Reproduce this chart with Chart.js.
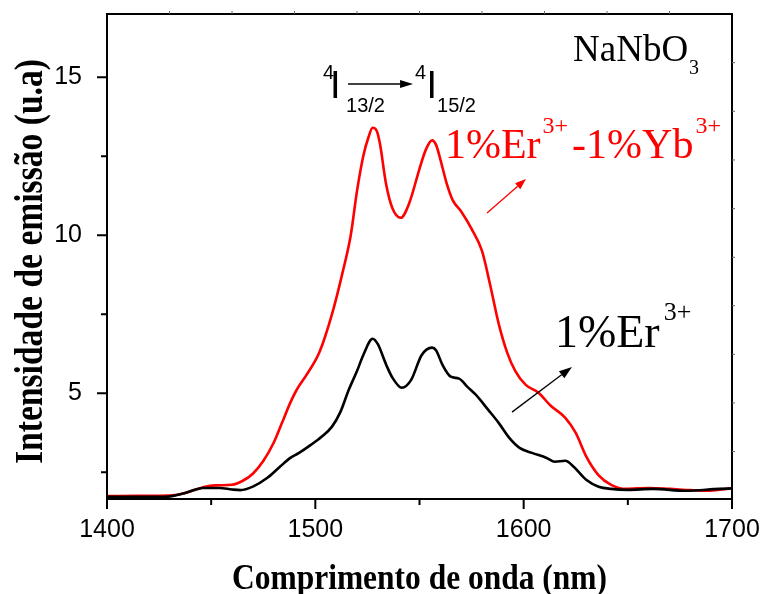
<!DOCTYPE html>
<html lang="pt">
<head>
<meta charset="utf-8">
<title>Emissão NaNbO3</title>
<script src="https://cdn.jsdelivr.net/npm/chart.js@4.4.1/dist/chart.umd.min.js"></script>
<style>
  html, body { margin: 0; padding: 0; background: #fff; }
  #wrap { width: 765px; height: 594px; position: relative; }
</style>
</head>
<body>
<div id="wrap"><canvas id="emission"></canvas></div>
<script>
// 1% Er3+ sample
const erWave = [1400, 1428, 1438, 1446, 1454, 1460, 1464, 1470, 1477, 1483, 1488, 1492, 1498, 1503, 1508, 1512, 1516, 1520, 1523, 1527.5, 1530, 1534, 1537, 1541.5, 1546, 1551, 1556, 1558, 1561, 1565, 1569, 1573, 1577, 1583, 1588, 1593, 1598, 1604, 1611, 1615, 1620, 1624, 1630, 1636, 1642, 1650, 1662, 1678, 1694, 1700];
const erIntensity = [1.72, 1.72, 1.85, 2.0, 2.0, 1.95, 1.93, 2.04, 2.32, 2.67, 2.95, 3.1, 3.37, 3.62, 3.94, 4.4, 5.1, 5.7, 6.2, 6.72, 6.55, 5.9, 5.49, 5.17, 5.42, 6.2, 6.44, 6.35, 5.9, 5.52, 5.46, 5.2, 4.95, 4.47, 4.06, 3.59, 3.27, 3.11, 2.95, 2.83, 2.86, 2.67, 2.26, 2.04, 1.97, 1.94, 1.97, 1.91, 1.97, 1.98];

// 1% Er3+ - 1% Yb3+ sample
const erYbWave = [1400, 1415, 1430, 1438, 1445, 1452, 1460, 1465, 1470, 1475, 1480, 1484, 1488, 1491, 1496, 1502, 1508, 1513, 1517, 1520, 1523, 1525.5, 1527.5, 1529.5, 1531, 1534, 1537, 1541, 1545, 1550, 1553, 1556, 1558, 1560, 1563, 1566, 1570, 1575, 1580, 1584, 1588, 1592, 1596, 1601, 1607, 1613, 1620, 1625, 1630, 1636, 1642, 1649, 1660, 1670, 1680, 1688, 1695, 1700];
const erYbIntensity = [1.74, 1.75, 1.76, 1.85, 2.0, 2.08, 2.1, 2.22, 2.45, 2.85, 3.43, 4.06, 4.7, 5.1, 5.6, 6.3, 7.5, 8.8, 10.0, 11.4, 12.5, 13.1, 13.4, 13.3, 12.9, 11.6, 10.85, 10.55, 11.0, 12.1, 12.7, 13.0, 12.85, 12.4, 11.65, 11.1, 10.75, 10.2, 9.5, 8.4, 7.2, 6.3, 5.7, 5.26, 5.02, 4.6, 4.22, 3.74, 3.0, 2.4, 2.1, 1.97, 2.0, 1.97, 1.93, 1.91, 1.95, 2.0];

// axis ticks
const xTicks = [1400, 1500, 1600, 1700];
const xMinorTicks = [1450, 1550, 1650];
const yTicks = [5, 10, 15];
const yMinorTicks = [2.5, 7.5, 12.5];
const topTicks = [1430, 1460, 1490, 1520, 1550, 1580, 1610, 1640, 1670];
const rightTicks = [3.15, 4.69, 6.23, 7.77, 9.3, 10.84, 12.38, 13.92, 15.46];

const toPoints = (xs, ys) => xs.map((x, i) => ({ x: x, y: ys[i] }));

const SERIF = "'Liberation Serif', 'Times New Roman', serif";
const SANS = "'Liberation Sans', Arial, sans-serif";

// draws a run of text pieces; each piece can shift its baseline and size
function drawRuns(ctx, x, y, runs, color) {
  ctx.fillStyle = color;
  ctx.textBaseline = "alphabetic";
  ctx.textAlign = "left";
  let cx = x;
  runs.forEach((r) => {
    ctx.font = r.font;
    cx += r.dx || 0;
    ctx.fillText(r.t, cx, y + (r.dy || 0));
    cx += ctx.measureText(r.t).width;
  });
}

function arrow(ctx, x1, y1, x2, y2, color, width, head, half) {
  const a = Math.atan2(y2 - y1, x2 - x1);
  const bx = x2 - head * Math.cos(a);
  const by = y2 - head * Math.sin(a);
  ctx.strokeStyle = color;
  ctx.fillStyle = color;
  ctx.lineWidth = width;
  ctx.beginPath();
  ctx.moveTo(x1, y1);
  ctx.lineTo(bx, by);
  ctx.stroke();
  ctx.beginPath();
  ctx.moveTo(x2, y2);
  ctx.lineTo(bx + half * Math.sin(a), by - half * Math.cos(a));
  ctx.lineTo(bx - half * Math.sin(a), by + half * Math.cos(a));
  ctx.closePath();
  ctx.fill();
}

// squeezes a title horizontally so it spans the given length
function fitText(ctx, text, font, length) {
  ctx.font = font;
  return length / ctx.measureText(text).width;
}

// keep the plot box fixed: no extra room for overhanging tick labels
function fixBox(s, size) {
  if (s.isHorizontal()) s.height = size; else s.width = size;
  s.paddingLeft = 0;
  s.paddingRight = 0;
  s.paddingTop = 0;
  s.paddingBottom = 0;
}

const framePlugin = {
  id: "originFrame",
  afterDraw(chart) {
    const { ctx, chartArea: a, scales } = chart;
    const xs = scales.x, ys = scales.y;
    const px = (x, y) => [xs.getPixelForValue(x), ys.getPixelForValue(y)];
    ctx.save();

    // box
    ctx.strokeStyle = "#000";
    ctx.lineWidth = 2;
    ctx.strokeRect(a.left, a.top, a.right - a.left, a.bottom - a.top);

    // outward ticks, bottom and left
    ctx.lineWidth = 2;
    ctx.beginPath();
    xTicks.forEach((v) => { const p = xs.getPixelForValue(v); ctx.moveTo(p, a.bottom); ctx.lineTo(p, a.bottom + 10); });
    xMinorTicks.forEach((v) => { const p = xs.getPixelForValue(v); ctx.moveTo(p, a.bottom); ctx.lineTo(p, a.bottom + 6); });
    yTicks.forEach((v) => { const p = ys.getPixelForValue(v); ctx.moveTo(a.left, p); ctx.lineTo(a.left - 10, p); });
    yMinorTicks.forEach((v) => { const p = ys.getPixelForValue(v); ctx.moveTo(a.left, p); ctx.lineTo(a.left - 6, p); });
    ctx.stroke();

    // small ticks on the top and right edges
    ctx.strokeStyle = "#666";
    ctx.lineWidth = 1;
    ctx.beginPath();
    topTicks.forEach((v) => { const p = xs.getPixelForValue(v); ctx.moveTo(p, a.top); ctx.lineTo(p, a.top - 3); });
    rightTicks.forEach((v) => { const p = ys.getPixelForValue(v); ctx.moveTo(a.right, p); ctx.lineTo(a.right + 3, p); });
    ctx.stroke();

    // axis titles
    const xTitle = "Comprimento de onda (nm)";
    const xFont = "bold 35px " + SERIF;
    const sx = fitText(ctx, xTitle, xFont, 375);
    ctx.save();
    ctx.translate((a.left + a.right) / 2, 589);
    ctx.scale(sx, 1);
    ctx.fillStyle = "#000";
    ctx.textAlign = "center";
    ctx.textBaseline = "alphabetic";
    ctx.fillText(xTitle, 0, 0);
    ctx.restore();

    const yTitle = "Intensidade de emissão (u.a)";
    const yFont = "bold 40px " + SERIF;
    const sy = fitText(ctx, yTitle, yFont, 405);
    ctx.save();
    ctx.translate(42, (a.top + a.bottom) / 2 + 5);
    ctx.rotate(-Math.PI / 2);
    ctx.scale(sy, 1);
    ctx.fillStyle = "#000";
    ctx.textAlign = "center";
    ctx.textBaseline = "alphabetic";
    ctx.fillText(yTitle, 0, 0);
    ctx.restore();

    // sample label
    let [lx, ly] = px(1623.7, 15.51);
    drawRuns(ctx, lx, ly, [
      { t: "NaNbO", font: "37px " + SERIF },
      { t: "3", font: "20px " + SERIF, dy: 13, dx: 1 },
    ], "#000");

    // transition 4I13/2 -> 4I15/2
    [lx, ly] = px(1503.7, 14.34);
    ctx.fillStyle = "#000";
    ctx.font = "20px " + SANS;
    ctx.fillText("4", lx, ly - 19);
    ctx.font = "38px " + SANS;
    ctx.fillText("I", lx + 7, ly);
    ctx.font = "20px " + SANS;
    ctx.fillText("13/2", lx + 23, ly + 14);
    arrow(ctx, lx + 25, ly - 14, lx + 90, ly - 14, "#000", 1.5, 13, 4);
    ctx.font = "20px " + SANS;
    ctx.fillText("4", lx + 92, ly - 19);
    ctx.font = "38px " + SANS;
    ctx.fillText("I", lx + 103.5, ly);
    ctx.font = "20px " + SANS;
    ctx.fillText("15/2", lx + 114, ly + 14);

    // series labels with pointers
    [lx, ly] = px(1562.2, 12.44);
    drawRuns(ctx, lx, ly, [
      { t: "1%Er", font: "42px " + SERIF },
      { t: "3+", font: "24px " + SERIF, dy: -25, dx: 2 },
      { t: "-1%Yb", font: "42px " + SERIF, dx: 4 },
      { t: "3+", font: "24px " + SERIF, dy: -25, dx: 2 },
    ], "#ff0000");
    let [ax1, ay1] = px(1582.4, 10.7);
    let [ax2, ay2] = px(1601.1, 11.78);
    arrow(ctx, ax1, ay1, ax2, ay2, "#ff0000", 1.3, 11, 4);

    [lx, ly] = px(1615.0, 6.46);
    drawRuns(ctx, lx, ly, [
      { t: "1%Er", font: "46px " + SERIF },
      { t: "3+", font: "26px " + SERIF, dy: -27, dx: 4 },
    ], "#000");
    [ax1, ay1] = px(1594.4, 4.4);
    [ax2, ay2] = px(1623.2, 5.83);
    arrow(ctx, ax1, ay1, ax2, ay2, "#000", 1.3, 13, 4.5);

    ctx.restore();
  },
};

new Chart(document.getElementById("emission"), {
  type: "scatter",
  data: {
    datasets: [
      {
        label: "1%Er3+",
        data: toPoints(erWave, erIntensity),
        showLine: true,
        borderColor: "#000",
        borderWidth: 2.6,
        pointRadius: 0,
        cubicInterpolationMode: "monotone",
      },
      {
        label: "1%Er3+-1%Yb3+",
        data: toPoints(erYbWave, erYbIntensity),
        showLine: true,
        borderColor: "#ff0000",
        borderWidth: 2.6,
        pointRadius: 0,
        cubicInterpolationMode: "monotone",
      },
    ],
  },
  options: {
    responsive: true,
    maintainAspectRatio: false,
    animation: false,
    layout: { padding: { top: 14, right: 33, left: 0, bottom: 0 } },
    plugins: { legend: { display: false }, tooltip: { enabled: false } },
    scales: {
      x: {
        type: "linear",
        min: 1400,
        max: 1700,
        grid: { display: false },
        border: { display: false },
        afterBuildTicks: (s) => { s.ticks = xTicks.map((v) => ({ value: v })); },
        afterFit: (s) => fixBox(s, 95),
        ticks: {
          autoSkip: false,
          maxRotation: 0,
          padding: 8,
          color: "#000",
          font: { family: SANS, size: 25 },
          callback: (v) => String(v),
        },
      },
      y: {
        type: "linear",
        min: 1.65,
        max: 17,
        grid: { display: false },
        border: { display: false },
        afterBuildTicks: (s) => { s.ticks = yTicks.map((v) => ({ value: v })); },
        afterFit: (s) => fixBox(s, 107),
        ticks: {
          padding: 17,
          color: "#000",
          font: { family: SANS, size: 25 },
          callback: (v) => String(v),
        },
      },
    },
  },
  plugins: [framePlugin],
});
</script>
</body>
</html>
